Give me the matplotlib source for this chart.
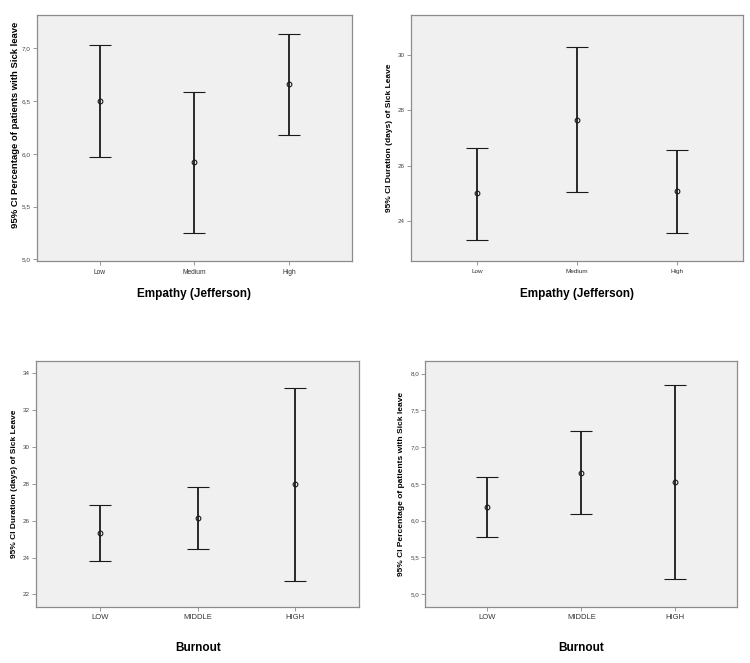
import numpy as np
import matplotlib
matplotlib.use("Agg")
import matplotlib.pyplot as plt
from matplotlib.ticker import FuncFormatter

plt.rcParams['font.family'] = ['Liberation Sans', 'DejaVu Sans']

# ---- data ----
emp_cats = ['Low', 'Medium', 'High']
burn_cats = ['LOW', 'MIDDLE', 'HIGH']

# Empathy -> % patients with sick leave
emp_pct_mean = [6.50, 5.92, 6.66]
emp_pct_low = [5.97, 5.25, 6.18]
emp_pct_up = [7.03, 6.59, 7.14]

# Empathy -> duration of sick leave
emp_dur_mean = [25.00, 27.67, 25.08]
emp_dur_low = [23.32, 25.03, 23.58]
emp_dur_up = [26.65, 30.30, 26.56]

# Burnout -> duration of sick leave
burn_dur_mean = [25.31, 26.16, 27.97]
burn_dur_low = [23.79, 24.46, 22.71]
burn_dur_up = [26.83, 27.85, 33.22]

# Burnout -> % patients with sick leave
burn_pct_mean = [6.19, 6.65, 6.52]
burn_pct_low = [5.78, 6.09, 5.20]
burn_pct_up = [6.60, 7.22, 7.84]

lab_pct = '95% CI Percentage of patients with Sick leave'
lab_dur = '95% CI Duration (days) of Sick Leave'

fig = plt.figure(figsize=(7.5, 6.63), dpi=100)

panels = [
    # rect, cats, mean, low, up, ylabel, xlabel, ylim, yticks, decimals,
    # xtick size, ytick size, ylabel size, ylabel (x, y), xlabel y
    ([0.0493, 0.6063, 0.420, 0.371], emp_cats, emp_pct_mean, emp_pct_low, emp_pct_up,
     lab_pct, 'Empathy (Jefferson)', (4.984, 7.316), np.arange(5.0, 7.01, 0.5), 1,
     4.8, 4.6, 6.8, (-0.054, 0.553), -0.11),
    ([0.548, 0.6063, 0.4423, 0.371], emp_cats, emp_dur_mean, emp_dur_low, emp_dur_up,
     lab_dur, 'Empathy (Jefferson)', (22.55, 31.45), np.arange(24, 31, 2), 0,
     4.6, 4.5, 6.0, (-0.054, 0.5), -0.11),
    ([0.048, 0.0849, 0.431, 0.3706], burn_cats, burn_dur_mean, burn_dur_low, burn_dur_up,
     lab_dur, 'Burnout', (21.33, 34.67), np.arange(22, 35, 2), 0,
     5.5, 4.5, 6.0, (-0.056, 0.5), -0.142),
    ([0.5671, 0.0849, 0.416, 0.3706], burn_cats, burn_pct_mean, burn_pct_low, burn_pct_up,
     lab_pct, 'Burnout', (4.83, 8.17), np.arange(5.0, 8.01, 0.5), 1,
     5.5, 4.5, 6.0, (-0.065, 0.5), -0.142),
]

for (rect, cats, mean, low, up, ylab, xlab, ylim, yticks, dec,
     xts, yts, yls, ylpos, xly) in panels:
    ax = fig.add_axes(rect)
    ax.set_facecolor('#f0f0f0')
    x = np.arange(len(cats))
    mean = np.array(mean)
    yerr = [mean - np.array(low), np.array(up) - mean]
    ax.errorbar(x, mean, yerr=yerr, fmt='o', color='#1a1a1a', ecolor='#1a1a1a',
                elinewidth=1.3, capsize=7.8, capthick=1.3,
                markersize=3.4, markerfacecolor='none', markeredgewidth=0.8)
    ax.set_xlim(-0.66, 2.66)
    ax.set_ylim(*ylim)
    ax.set_xticks(x)
    ax.set_xticklabels(cats, fontsize=xts, color='#333333')
    ax.set_yticks(yticks)
    ax.yaxis.set_major_formatter(FuncFormatter(
        lambda v, p, d=dec: (f'{v:.{d}f}').replace('.', ',')))
    ax.tick_params(axis='y', labelsize=yts, labelcolor='#444444', length=3,
                   width=0.6, color='#888888', pad=1.5)
    ax.tick_params(axis='x', length=3, width=0.6, color='#888888', pad=2.5)
    for s in ax.spines.values():
        s.set_color('#8c8c8c')
        s.set_linewidth(0.9)
    ax.set_ylabel(ylab, fontsize=yls, fontweight='bold')
    ax.yaxis.set_label_coords(*ylpos)
    ax.set_xlabel(xlab, fontsize=8.5, fontweight='bold')
    ax.xaxis.set_label_coords(0.5, xly)

fig.savefig('out.png', dpi=100)
